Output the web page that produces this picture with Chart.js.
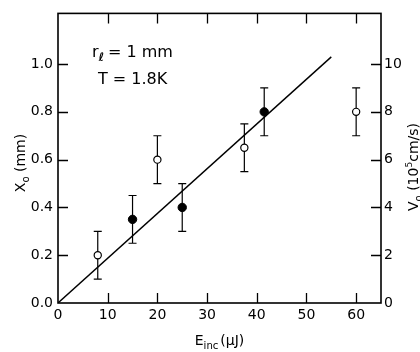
<!DOCTYPE html>
<html>
<head>
<meta charset="utf-8">
<script src="https://cdn.jsdelivr.net/npm/chart.js@4"></script>
<style>html,body{margin:0;background:#fff}</style>
</head>
<body>
<canvas id="c" width="420" height="352"></canvas>
<script>
  // open circles
  const openE = [8, 20, 37.5, 60];
  const openX0 = [0.2, 0.6, 0.65, 0.8];
  const openErr = [0.1, 0.1, 0.1, 0.1];
  // filled circles
  const filledE = [15, 25, 41.5];
  const filledX0 = [0.35, 0.4, 0.8];
  const filledErr = [0.1, 0.1, 0.1];
  // straight line through origin
  const fitE = [0, 55];
  const fitX0 = [0, 1.03];

  const xTicks = [0, 10, 20, 30, 40, 50, 60];
  const yTicks = [0, 0.2, 0.4, 0.6, 0.8, 1.0];
  const vTicks = [0, 2, 4, 6, 8, 10];

  const FONT = '"DejaVu Sans", sans-serif';

  const pts = (xs, ys) => xs.map((x, i) => ({ x: x, y: ys[i] }));

  // draw a run of text pieces, some as subscript / superscript
  function drawParts(ctx, parts, size) {
    let x = 0;
    for (const p of parts) {
      let s = size, dy = 0;
      if (p.sub) { s = size * 0.72; dy = size * 0.28; }
      if (p.sup) { s = size * 0.65; dy = -size * 0.42; }
      ctx.font = (p.bold ? 'bold ' : '') + s + 'px ' + FONT;
      ctx.fillText(p.t, x, dy);
      x += ctx.measureText(p.t).width + (p.gap || 0);
    }
    return x;
  }
  function partsWidth(ctx, parts, size) {
    let w = 0;
    for (const p of parts) {
      let s = p.sub ? size * 0.72 : p.sup ? size * 0.65 : size;
      ctx.font = (p.bold ? 'bold ' : '') + s + 'px ' + FONT;
      w += ctx.measureText(p.t).width + (p.gap || 0);
    }
    return w;
  }

  const framePlugin = {
    id: 'frame',
    beforeDatasetsDraw(chart) {
      const ctx = chart.ctx, a = chart.chartArea;
      const sx = chart.scales.x, sy = chart.scales.y, sv = chart.scales.v;
      ctx.save();
      ctx.strokeStyle = '#000';
      // error bars
      ctx.lineWidth = 1.2;
      chart.data.datasets.forEach(ds => {
        if (!ds.errs) return;
        ds.data.forEach((p, i) => {
          const x = sx.getPixelForValue(p.x);
          const y1 = sy.getPixelForValue(p.y + ds.errs[i]);
          const y2 = sy.getPixelForValue(p.y - ds.errs[i]);
          ctx.beginPath();
          ctx.moveTo(x, y1); ctx.lineTo(x, y2);
          ctx.moveTo(x - 4, y1); ctx.lineTo(x + 4, y1);
          ctx.moveTo(x - 4, y2); ctx.lineTo(x + 4, y2);
          ctx.stroke();
        });
      });
      ctx.restore();
    },
    afterDraw(chart) {
      const ctx = chart.ctx, a = chart.chartArea;
      const sx = chart.scales.x, sy = chart.scales.y, sv = chart.scales.v;
      const T = 10;
      ctx.save();
      ctx.strokeStyle = '#000';
      ctx.fillStyle = '#000';
      ctx.lineWidth = 1.6;
      ctx.strokeRect(a.left, a.top, a.right - a.left, a.bottom - a.top);
      ctx.lineWidth = 1.3;
      ctx.beginPath();
      xTicks.forEach(v => {
        if (v === 0) return;
        const x = Math.round(sx.getPixelForValue(v)) + 0.5;
        ctx.moveTo(x, a.bottom); ctx.lineTo(x, a.bottom - T);
        ctx.moveTo(x, a.top); ctx.lineTo(x, a.top + T);
      });
      yTicks.forEach(v => {
        if (v === 0) return;
        const y = Math.round(sy.getPixelForValue(v)) + 0.5;
        ctx.moveTo(a.left, y); ctx.lineTo(a.left + T, y);
      });
      vTicks.forEach(v => {
        if (v === 0) return;
        const y = Math.round(sv.getPixelForValue(v)) + 0.5;
        ctx.moveTo(a.right, y); ctx.lineTo(a.right - T, y);
      });
      ctx.stroke();

      ctx.textBaseline = 'alphabetic';
      // bottom title
      const bParts = [{ t: 'E' }, { t: 'inc', sub: true, gap: 2 }, { t: '(\u03bcJ)' }];
      ctx.save();
      const bw = partsWidth(ctx, bParts, 14);
      ctx.translate((a.left + a.right) / 2 - bw / 2, 345);
      drawParts(ctx, bParts, 14);
      ctx.restore();
      // left title
      const lParts = [{ t: 'X' }, { t: 'o', sub: true }, { t: ' (mm)' }];
      ctx.save();
      const lw = partsWidth(ctx, lParts, 14);
      ctx.translate(25, 163 + lw / 2);
      ctx.rotate(-Math.PI / 2);
      drawParts(ctx, lParts, 14);
      ctx.restore();
      // right title
      const rParts = [{ t: 'V' }, { t: 'o', sub: true }, { t: ' (10' }, { t: '5', sup: true }, { t: 'cm/s)' }];
      ctx.save();
      const rw = partsWidth(ctx, rParts, 14);
      ctx.translate(418, 167 + rw / 2);
      ctx.rotate(-Math.PI / 2);
      drawParts(ctx, rParts, 14);
      ctx.restore();
      // conditions
      ctx.save();
      ctx.translate(92, 57);
      drawParts(ctx, [{ t: 'r' }, { t: '\u2113', sub: true, bold: true, gap: 4 }, { t: '= 1 mm' }], 16);
      ctx.restore();
      ctx.save();
      ctx.translate(98, 84);
      drawParts(ctx, [{ t: 'T = 1.8K' }], 16);
      ctx.restore();
      ctx.restore();
    }
  };

  new Chart(document.getElementById('c'), {
    type: 'scatter',
    data: {
      datasets: [
        {
          data: pts(openE, openX0), errs: openErr,
          pointRadius: 3.6, pointBackgroundColor: '#fff', pointBorderColor: '#000', pointBorderWidth: 1.2
        },
        {
          data: pts(filledE, filledX0), errs: filledErr,
          pointRadius: 4.2, pointBackgroundColor: '#000', pointBorderColor: '#000', pointBorderWidth: 1
        },
        {
          data: pts(fitE, fitX0), showLine: true, borderColor: '#000', borderWidth: 1.4,
          pointRadius: 0, order: 5
        }
      ]
    },
    options: {
      responsive: false,
      animation: false,
      layout: { padding: { top: 8, left: 0, right: 0, bottom: 0 } },
      plugins: { legend: { display: false }, tooltip: { enabled: false } },
      scales: {
        x: {
          type: 'linear', position: 'bottom', min: 0, max: 65,
          grid: { display: false, drawTicks: false }, border: { display: false },
          afterBuildTicks: s => { s.ticks = xTicks.map(v => ({ value: v })); },
          afterFit: s => { s.height = 49; },
          ticks: { color: '#000', padding: 4, font: { family: FONT, size: 14 } }
        },
        y: {
          type: 'linear', position: 'left', min: 0, max: 1.212,
          grid: { display: false, drawTicks: false }, border: { display: false },
          afterBuildTicks: s => { s.ticks = yTicks.map(v => ({ value: v })); },
          afterFit: s => { s.width = 58; },
          ticks: { color: '#000', padding: 5, font: { family: FONT, size: 14 },
                   callback: v => v.toFixed(1) }
        },
        v: {
          type: 'linear', position: 'right', min: 0, max: 12.12,
          grid: { display: false, drawTicks: false }, border: { display: false },
          afterBuildTicks: s => { s.ticks = vTicks.map(v => ({ value: v })); },
          afterFit: s => { s.width = 39; },
          ticks: { color: '#000', padding: 3, font: { family: FONT, size: 14 } }
        }
      }
    },
    plugins: [framePlugin]
  });
</script>
</body>
</html>
